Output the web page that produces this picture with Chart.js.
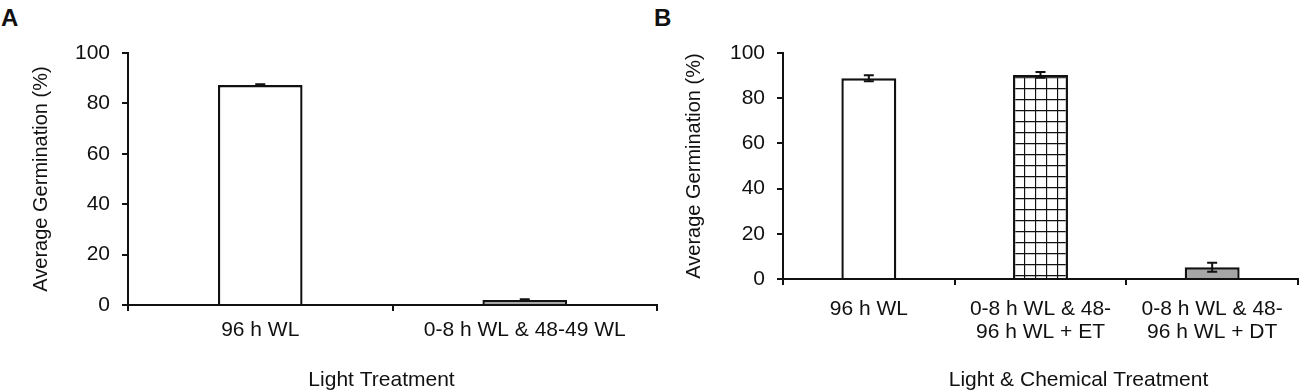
<!DOCTYPE html>
<html>
<head>
<meta charset="utf-8">
<script src="https://cdn.jsdelivr.net/npm/chart.js@4/dist/chart.umd.min.js"></script>
<style>
  body { margin: 0; background: #fff; width: 1300px; height: 391px; position: relative; overflow: hidden; }
  .panel { position: absolute; top: 0; height: 391px; }
  .letter { position: absolute; top: 4px; font: bold 24px "Liberation Sans", Arial, sans-serif; color: #111; }
</style>
</head>
<body>
<div class="letter" style="left:1px">A</div>
<div class="letter" style="left:654px">B</div>
<div class="panel" style="left:0; width:660px"><canvas id="chartA"></canvas></div>
<div class="panel" style="left:650px; width:650px"><canvas id="chartB"></canvas></div>
<script>
//Data for panel A
const labelsA = ['96 h WL', '0-8 h WL & 48-49 WL'];
const valuesA = [87.3, 2.0];
const errorsA = [0.3, 0.3];

//Data for panel B
const labelsB = ['96 h WL', ['0-8 h WL & 48-', '96 h WL + ET'], ['0-8 h WL & 48-', '96 h WL + DT']];
const valuesB = [88.8, 90.3, 5.2];
const errorsB = [1.3, 1.3, 2.0];

const yTicks = [0, 20, 40, 60, 80, 100];
const FONT = '"Liberation Sans", Arial, sans-serif';
const INK = '#111';

//Grid hatch used for the "+ ET" bar
function gridPattern() {
  const c = document.createElement('canvas');
  c.width = 11;
  c.height = 11;
  const g = c.getContext('2d');
  g.fillStyle = '#fff';
  g.fillRect(0, 0, 11, 11);
  g.strokeStyle = '#111';
  g.lineWidth = 1.3;
  g.beginPath();
  g.moveTo(0.5, 0); g.lineTo(0.5, 11);
  g.moveTo(0, 0.5); g.lineTo(11, 0.5);
  g.stroke();
  return g.createPattern(c, 'repeat');
}

//Plugin that draws the error bars from the dataset values
const errorBars = {
  id: 'errorBars',
  afterDatasetsDraw(chart, args, opts) {
    const ctx = chart.ctx;
    const y = chart.scales.y;
    const meta = chart.getDatasetMeta(0);
    const vals = chart.data.datasets[0].data;
    ctx.save();
    ctx.strokeStyle = INK;
    ctx.lineWidth = 2;
    meta.data.forEach((bar, i) => {
      const top = y.getPixelForValue(vals[i] + opts.errors[i]);
      const bot = y.getPixelForValue(vals[i] - opts.errors[i]);
      const half = 5;
      ctx.beginPath();
      ctx.moveTo(bar.x, top); ctx.lineTo(bar.x, bot);
      ctx.moveTo(bar.x - half, top); ctx.lineTo(bar.x + half, top);
      ctx.moveTo(bar.x - half, bot); ctx.lineTo(bar.x + half, bot);
      ctx.stroke();
    });
    ctx.restore();
  }
};

//Plugin for the x axis title, which sits a little off the axis centre
const xTitle = {
  id: 'xTitle',
  afterDraw(chart, args, opts) {
    const ctx = chart.ctx;
    const area = chart.chartArea;
    ctx.save();
    ctx.fillStyle = INK;
    ctx.font = '21px ' + FONT;
    ctx.textAlign = 'center';
    ctx.textBaseline = 'middle';
    ctx.fillText(opts.text, (area.left + area.right) / 2 + opts.dx, opts.y);
    ctx.restore();
  }
};

function makeChart(id, labels, values, errors, fills, titleText, titleDx, yWidth, xHeight, padRight, xPad, yTitlePad) {
  return new Chart(document.getElementById(id), {
    type: 'bar',
    data: {
      labels: labels,
      datasets: [{
        data: values,
        backgroundColor: fills,
        borderColor: INK,
        borderWidth: 2.4,
        borderSkipped: 'start',
        categoryPercentage: 1,
        barPercentage: 0.32
      }]
    },
    options: {
      responsive: true,
      maintainAspectRatio: false,
      animation: false,
      layout: { padding: { top: 53, right: padRight, left: 0, bottom: 0 } },
      plugins: {
        legend: { display: false },
        tooltip: { enabled: false },
        errorBars: { errors: errors },
        xTitle: { text: titleText, dx: titleDx, y: 380 }
      },
      scales: {
        x: {
          offset: true,
          grid: { offset: true, drawOnChartArea: false, tickLength: 6, lineWidth: 2, color: INK },
          border: { display: true, width: 2, color: INK },
          ticks: { color: INK, font: { family: FONT, size: 21, lineHeight: 1.1 }, padding: xPad, maxRotation: 0, autoSkip: false },
          afterFit(scale) { scale.height = xHeight; }
        },
        y: {
          min: 0,
          max: 100,
          afterBuildTicks(scale) { scale.ticks = yTicks.map(v => ({ value: v })); },
          grid: { drawOnChartArea: false, tickLength: 6, lineWidth: 2, color: INK },
          border: { display: true, width: 2, color: INK },
          ticks: { color: INK, font: { family: FONT, size: 21 }, padding: 12 },
          title: { display: true, text: 'Average Germination (%)', color: INK, font: { family: FONT, size: 20 }, padding: { top: yTitlePad, bottom: 0 } },
          afterFit(scale) { scale.width = yWidth; }
        }
      }
    },
    plugins: [errorBars, xTitle]
  });
}

makeChart('chartA', labelsA, valuesA, errorsA, ['#fff', '#a6a6a6'], 'Light Treatment', -11, 128, 86, 3, 8, 29);
makeChart('chartB', labelsB, valuesB, errorsB, ['#fff', gridPattern(), '#a6a6a6'], 'Light & Chemical Treatment', 38, 133, 112, 2, 13, 32);
</script>
</body>
</html>
